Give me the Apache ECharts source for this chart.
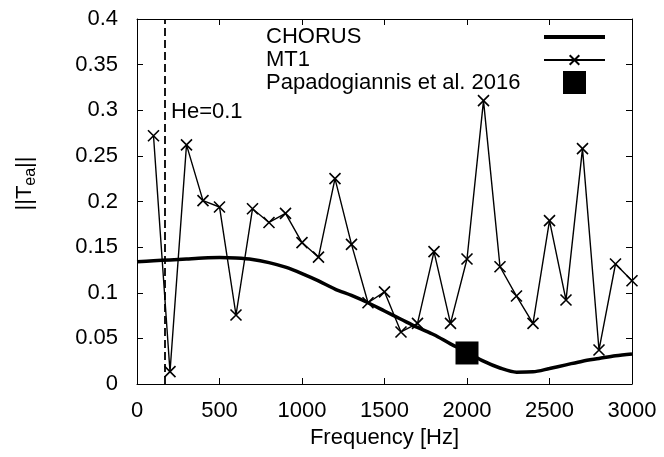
<!DOCTYPE html>
<html>
<head>
<meta charset="utf-8">
<script src="https://cdn.jsdelivr.net/npm/echarts@6/dist/echarts.min.js"></script>
<style>html,body{margin:0;padding:0;background:#fff}#c{width:664px;height:457px}</style>
</head>
<body>
<div id="c"></div>
<script>
// ---- data ----
var chorusFreq = [0,100,200,300,400,500,600,700,800,900,1000,1100,1200,1300,1400,1500,1600,1700,1800,1900,2000,2100,2200,2300,2400,2500,2600,2700,2800,2900,3000];
var chorusVal  = [0.134,0.135,0.136,0.137,0.138,0.1385,0.138,0.1365,0.133,0.128,0.121,0.113,0.104,0.097,0.089,0.080,0.071,0.062,0.054,0.044,0.035,0.025,0.0175,0.013,0.0133,0.017,0.021,0.025,0.028,0.031,0.033];
var mt1Freq = [100,200,300,400,500,600,700,800,900,1000,1100,1200,1300,1400,1500,1600,1700,1800,1900,2000,2100,2200,2300,2400,2500,2600,2700,2800,2900,3000];
var mt1Val  = [0.272,0.0135,0.262,0.201,0.194,0.0756,0.192,0.177,0.187,0.155,0.139,0.225,0.153,0.089,0.101,0.057,0.0665,0.145,0.0665,0.137,0.3105,0.1285,0.0964,0.0665,0.179,0.092,0.258,0.0373,0.1315,0.1132];
var papaFreq = [2000];
var papaVal  = [0.034];
var heFreq = 170;
var heLabelY = 0.2986;
var xTicks = {min:0, max:3000, interval:500};
var yTicks = {min:0, max:0.4, interval:0.05};

function pairs(a,b){return a.map(function(v,i){return [v,b[i]];});}

var FONT = 'Liberation Sans, Arial, Helvetica, sans-serif';
var chart = echarts.init(document.getElementById('c'), null, {renderer:'canvas'});
var crossPath = 'path://M0,0L10,10M10,0L0,10';

var axisCommon = {
  axisLine:{show:true, onZero:false, lineStyle:{color:'#000', width:1}},
  axisTick:{show:true, inside:true, length:6, lineStyle:{color:'#000', width:1}},
  splitLine:{show:false}
};

function legendText(w){
  return {fontFamily:FONT, fontSize:22, color:'#000',
    rich:{a:{fontFamily:FONT, fontSize:22, color:'#000', width:w, align:'left'}}};
}

chart.setOption({
  animation:false,
  backgroundColor:'#fff',
  textStyle:{fontFamily:FONT},
  grid:{left:137, right:32, top:19, bottom:73, containLabel:false},
  xAxis:[
    Object.assign({type:'value', position:'bottom', min:xTicks.min, max:xTicks.max, interval:xTicks.interval,
      name:'Frequency [Hz]', nameLocation:'middle', nameGap:42,
      nameTextStyle:{fontFamily:FONT, fontSize:22, color:'#000'},
      axisLabel:{fontFamily:FONT, fontSize:22, color:'#000', margin:16,
        formatter:function(v){return String(v);}}}, axisCommon),
    Object.assign({type:'value', position:'top', min:xTicks.min, max:xTicks.max, interval:xTicks.interval,
      axisLabel:{show:false}}, axisCommon)
  ],
  yAxis:[
    Object.assign({type:'value', position:'left', min:yTicks.min, max:yTicks.max, interval:yTicks.interval,
      name:'||T{sub|ea}||', nameLocation:'middle', nameGap:98, nameRotate:90,
      nameTextStyle:{fontFamily:FONT, fontSize:22, color:'#000', padding:[0,0,0,36],
        rich:{sub:{fontFamily:FONT, fontSize:16, color:'#000', padding:[12,0,0,0]}}},
      axisLabel:{fontFamily:FONT, fontSize:22, color:'#000', margin:19,
        formatter:function(v){return String(Math.round(v*100)/100);}}}, axisCommon),
    Object.assign({type:'value', position:'right', min:yTicks.min, max:yTicks.max, interval:yTicks.interval,
      axisLabel:{show:false}}, axisCommon)
  ],
  legend:[
    {data:[{name:'CHORUS', icon:'rect'}], left:266, top:26, padding:0, align:'right', orient:'vertical',
     itemWidth:61, itemHeight:4, symbolKeepAspect:false, selectedMode:false,
     formatter:'{a|{name}}', textStyle:legendText(273)},
    {data:['MT1'], left:266, top:49, padding:0, align:'right', orient:'vertical',
     itemWidth:61, itemHeight:12, selectedMode:false,
     formatter:'{a|{name}}', textStyle:legendText(273)},
    {data:[{name:'Papadogiannis et al. 2016', icon:'rect'}], left:266, top:71, padding:0, align:'right', orient:'vertical',
     itemWidth:23, itemHeight:23, selectedMode:false,
     formatter:'{a|{name}}', textStyle:legendText(292)}
  ],
  series:[
    {name:'CHORUS', type:'line', data:pairs(chorusFreq, chorusVal), smooth:0.3, symbol:'none',
     lineStyle:{color:'#000', width:3.5}, itemStyle:{color:'#000'}, z:3,
     markLine:{silent:true, symbol:'none', label:{show:false},
       lineStyle:{color:'#000', width:1.8, type:[8,4]},
       data:[{xAxis:heFreq}]},
     markPoint:{silent:true, symbol:'circle', symbolSize:0,
       label:{show:true, position:'right', distance:6, formatter:'He=0.1', fontFamily:FONT, fontSize:22, color:'#000'},
       data:[{coord:[heFreq, heLabelY]}]}
    },
    {name:'MT1', type:'line', data:pairs(mt1Freq, mt1Val), symbol:crossPath, symbolSize:11, showAllSymbol:true,
     lineStyle:{color:'#000', width:1.4}, itemStyle:{color:'rgba(0,0,0,0)', borderColor:'#000', borderWidth:1.6}, z:4},
    {name:'Papadogiannis et al. 2016', type:'scatter', data:pairs(papaFreq, papaVal), symbol:'rect', symbolSize:23,
     itemStyle:{color:'#000', opacity:1}, z:5}
  ]
});
</script>
</body>
</html>
